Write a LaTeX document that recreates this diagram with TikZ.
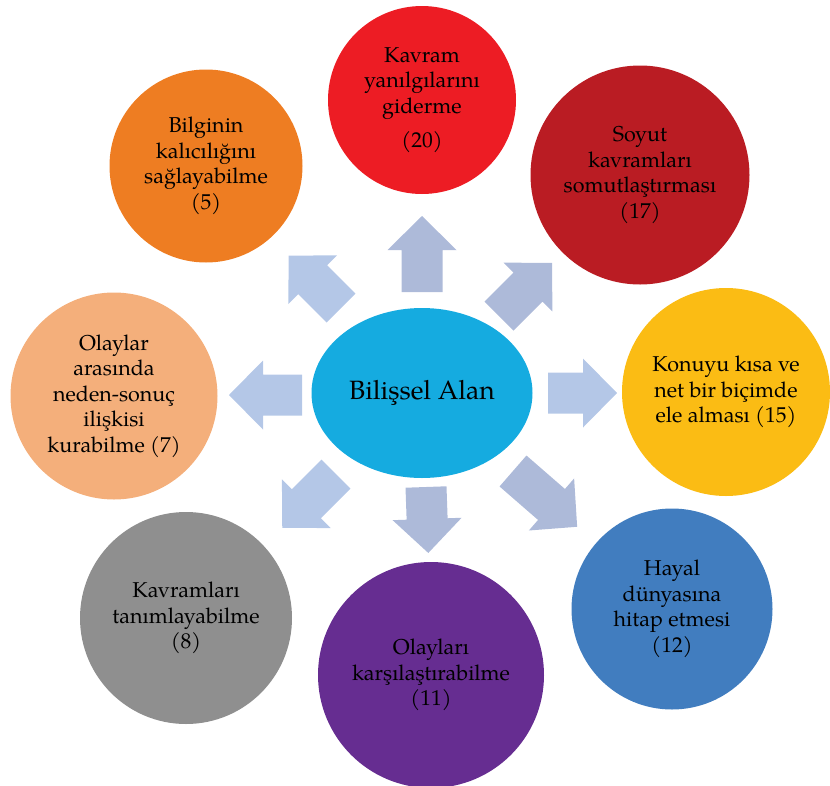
\documentclass[tikz,border=0pt]{standalone}
\usepackage{fontspec}
\setmainfont{TeX Gyre Pagella}
\usepackage{tikz}
\usetikzlibrary{shapes}
\usepackage{xcolor}

\definecolor{redA}{HTML}{ED1C24}
\definecolor{redB}{HTML}{BA1C23}
\definecolor{yellowA}{HTML}{FBBC14}
\definecolor{blueA}{HTML}{417DBF}
\definecolor{purpleA}{HTML}{662D91}
\definecolor{greyA}{HTML}{8F8F8F}
\definecolor{peachA}{HTML}{F4AF7B}
\definecolor{orangeA}{HTML}{EE7D22}
\definecolor{cyanA}{HTML}{15ABE0}
\definecolor{arrowA}{HTML}{B4C7E7}
\definecolor{arrowB}{HTML}{ADBAD9}

\begin{document}
\begin{tikzpicture}[x=1pt,y=-1pt,
        bubble/.style={circle,inner sep=0pt,align=center,text=black,
          font=\fontsize{21.5}{25.5}\selectfont}]
        \useasboundingbox (0,0) rectangle (830,785);

        %draw the block arrows round the centre
        \foreach \bx/\by/\ang/\len/\col in {422/292/90/76/arrowB,
          499/316/45/75/arrowB, 548/393/0/69/arrowA,
          513/471/-41/85/arrowB, 426/487/-88/66/arrowB,
          336/474/-135/76/arrowA, 302/395/180/73/arrowA,
          341/308/135/74/arrowA}
        {
          \begin{scope}[shift={(\bx,\by)},rotate=\ang]
            \fill[\col] (0,-20.5) -- ({\len-34},-20.5) -- ({\len-34},-34.5)
              -- (\len,0) -- ({\len-34},34.5) -- ({\len-34},20.5)
              -- (0,20.5) -- cycle;
          \end{scope}
        }

        %draw the centre ellipse
        \node[ellipse,fill=cyanA,minimum width=221pt,minimum height=170pt,
          inner sep=0pt,font=\fontsize{26.5}{30}\selectfont] (bilissel)
          at (422,393) {Bilişsel Alan};

        %draw the outer circles
        \node[bubble,fill=redA,minimum size=188pt] (kavram) at (422,100)
          {Kavram\\yanılgılarını\\giderme\\[9pt](20)};
        \node[bubble,fill=redB,minimum size=219pt] (soyut) at (640,175)
          {Soyut\\kavramları\\somutlaştırması\\(17)};
        \node[bubble,fill=yellowA,minimum size=208pt] (konuyu) at (726,392)
          {Konuyu kısa ve\\net bir biçimde\\ele alması (15)};
        \node[bubble,fill=blueA,minimum size=201pt] (hayal) at (672,609)
          {Hayal\\dünyasına\\hitap etmesi\\(12)};
        \node[bubble,fill=purpleA,minimum size=226pt] (olaylari) at (431,675)
          {Olayları\\karşılaştırabilme\\(11)};
        \node[bubble,fill=greyA,minimum size=212pt] (kavramlari) at (186,618)
          {Kavramları\\tanımlayabilme\\(8)};
        \node[bubble,fill=peachA,minimum size=207pt] (olaylar) at (114,396)
          {Olaylar\\arasında\\neden-sonuç\\ilişkisi\\kurabilme (7)};
        \node[bubble,fill=orangeA,minimum size=193pt] (bilginin) at (206,166)
          {Bilginin\\kalıcılığını\\sağlayabilme\\(5)};
\end{tikzpicture}
\end{document}
